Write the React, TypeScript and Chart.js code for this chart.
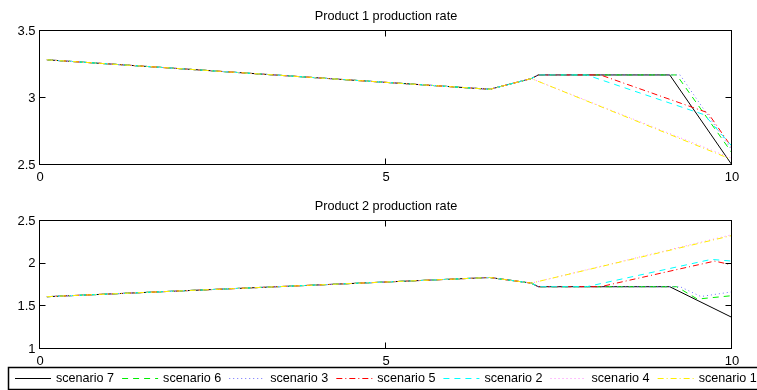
import { useEffect, useRef } from "react";
import { Chart, registerables } from "chart.js";

Chart.register(...registerables);

// ---------- shared series meta ----------
const scenarioNames = ["scenario 7", "scenario 6", "scenario 3", "scenario 5", "scenario 2", "scenario 4", "scenario 1"];
const scenarioColors = ["#000000", "#00ee00", "#7070ff", "#ff0000", "#00ffff", "#ff80ff", "#ffee00"];
const scenarioDashes: number[][] = [[], [6, 5], [1, 3], [6, 3, 1, 3], [6, 5], [1, 3], [6, 3, 1, 3]];

const xTicks = [0, 5, 10];
const p1YTicks = [2.5, 3, 3.5];
const p2YTicks = [1, 1.5, 2, 2.5];

// ---------- Product 1 production rate ----------
const p1s7T = [0.1, 6.5, 7.1, 7.2, 9.1, 10];
const p1s7V = [3.285, 3.065, 3.145, 3.172, 3.172, 2.5];
const p1s6T = [0.1, 6.5, 7.1, 7.2, 9.2, 10];
const p1s6V = [3.285, 3.065, 3.145, 3.172, 3.172, 2.59];
const p1s3T = [0.1, 6.5, 7.1, 7.2, 9.25, 10];
const p1s3V = [3.285, 3.065, 3.145, 3.172, 3.172, 2.61];
const p1s5T = [0.1, 6.5, 7.1, 7.2, 8.1, 9.65, 10];
const p1s5V = [3.285, 3.065, 3.145, 3.172, 3.172, 2.89, 2.63];
const p1s2T = [0.1, 6.5, 7.1, 7.2, 7.9, 9.6, 10];
const p1s2V = [3.285, 3.065, 3.145, 3.172, 3.172, 2.875, 2.64];
const p1s4T = [0.1, 6.5, 7.1, 10];
const p1s4V = [3.285, 3.065, 3.145, 2.55];
const p1s1T = [0.1, 6.5, 7.1, 10];
const p1s1V = [3.285, 3.065, 3.145, 2.54];

// ---------- Product 2 production rate ----------
const p2s7T = [0.1, 6.5, 7.1, 7.2, 9.1, 10];
const p2s7V = [1.613, 1.838, 1.772, 1.73, 1.73, 1.37];
const p2s6T = [0.1, 6.5, 7.1, 7.2, 9.2, 9.5, 10];
const p2s6V = [1.613, 1.838, 1.772, 1.73, 1.73, 1.585, 1.625];
const p2s3T = [0.1, 6.5, 7.1, 7.2, 9.25, 9.55, 10];
const p2s3V = [1.613, 1.838, 1.772, 1.73, 1.73, 1.615, 1.67];
const p2s5T = [0.1, 6.5, 7.1, 7.2, 8.1, 9.75, 10];
const p2s5V = [1.613, 1.838, 1.772, 1.73, 1.73, 2.03, 1.985];
const p2s2T = [0.1, 6.5, 7.1, 7.2, 7.9, 9.7, 10];
const p2s2V = [1.613, 1.838, 1.772, 1.73, 1.73, 2.05, 2.03];
const p2s4T = [0.1, 6.5, 7.1, 10];
const p2s4V = [1.613, 1.838, 1.772, 2.34];
const p2s1T = [0.1, 6.5, 7.1, 10];
const p2s1V = [1.613, 1.838, 1.772, 2.33];

const p1Series = [[p1s7T, p1s7V], [p1s6T, p1s6V], [p1s3T, p1s3V], [p1s5T, p1s5V], [p1s2T, p1s2V], [p1s4T, p1s4V], [p1s1T, p1s1V]];
const p2Series = [[p2s7T, p2s7V], [p2s6T, p2s6V], [p2s3T, p2s3V], [p2s5T, p2s5V], [p2s2T, p2s2V], [p2s4T, p2s4V], [p2s1T, p2s1V]];

const FONT = '"Liberation Sans", Arial, Helvetica, sans-serif';

function fmt(v: number) {
  return String(v);
}

const matlabAxes = {
  id: "matlabAxes",
  afterDraw(chart: any, _args: any, opts: any) {
    const { ctx, chartArea: a, scales } = chart;
    const xs = scales.x;
    const ys = scales.y;
    const L = Math.round(a.left) - 0.5;
    const R = Math.round(a.right) - 0.5;
    const T = Math.round(a.top) - 0.5;
    const B = Math.round(a.bottom) - 0.5;
    ctx.save();
    ctx.strokeStyle = "#000";
    ctx.lineWidth = 1;
    ctx.setLineDash([]);
    ctx.strokeRect(L, T, R - L, B - T);
    const tl = 6;
    ctx.beginPath();
    for (const t of opts.xTicks) {
      const px = Math.round(xs.getPixelForValue(t)) - 0.5;
      ctx.moveTo(px, B);
      ctx.lineTo(px, B - tl);
      ctx.moveTo(px, T);
      ctx.lineTo(px, T + tl);
    }
    for (const t of opts.yTicks) {
      const py = Math.round(ys.getPixelForValue(t)) - 0.5;
      ctx.moveTo(L, py);
      ctx.lineTo(L + tl, py);
      ctx.moveTo(R, py);
      ctx.lineTo(R - tl, py);
    }
    ctx.stroke();
    ctx.fillStyle = "#000";
    ctx.font = `13px ${FONT}`;
    ctx.textBaseline = "middle";
    ctx.textAlign = "center";
    for (const t of opts.xTicks) {
      ctx.fillText(fmt(t), xs.getPixelForValue(t), a.bottom + 12);
    }
    ctx.textAlign = "right";
    for (const t of opts.yTicks) {
      ctx.fillText(fmt(t), a.left - 4.5, ys.getPixelForValue(t));
    }
    ctx.font = `12.7px ${FONT}`;
    ctx.textAlign = "center";
    ctx.fillText(opts.title, (a.left + a.right) / 2, a.top - 15);

    if (opts.legendTop !== undefined) {
      const top = opts.legendTop;
      const h = 22;
      ctx.lineWidth = 1.5;
      ctx.strokeRect(8.5, top + 0.5, 800, h);
      ctx.font = `12.6px ${FONT}`;
      ctx.textAlign = "left";
      let x = 15;
      const cy = top + h / 2 + 0.5;
      chart.data.datasets.forEach((ds: any) => {
        ctx.lineWidth = 1;
        ctx.strokeStyle = ds.borderColor;
        ctx.setLineDash(ds.borderDash || []);
        ctx.beginPath();
        ctx.moveTo(x, cy);
        ctx.lineTo(x + 36, cy);
        ctx.stroke();
        ctx.setLineDash([]);
        ctx.fillStyle = "#000";
        ctx.fillText(ds.label, x + 41, cy);
        x += 36 + 4 + ctx.measureText(ds.label).width + 9;
      });
    }
    ctx.restore();
  },
};

function makeDatasets(series: number[][][]) {
  return series.map(([ts, vs], i) => ({
    label: scenarioNames[i],
    data: ts.map((t, k) => ({ x: t, y: vs[k] })),
    borderColor: scenarioColors[i],
    borderDash: scenarioDashes[i],
    borderWidth: 1,
    pointRadius: 0,
    fill: false,
    tension: 0,
    order: series.length - i,
  }));
}

function makeConfig(series: number[][][], yMin: number, yMax: number, yTicks: number[], title: string, padding: any, legendTop?: number): any {
  return {
    type: "line",
    data: { datasets: makeDatasets(series) },
    options: {
      animation: false,
      responsive: false,
      devicePixelRatio: 1,
      layout: { padding },
      scales: {
        x: { type: "linear", min: 0, max: 10, display: false },
        y: { type: "linear", min: yMin, max: yMax, display: false },
      },
      plugins: {
        legend: { display: false },
        tooltip: { enabled: false },
        matlabAxes: { xTicks, yTicks, title, legendTop },
      },
    },
    plugins: [matlabAxes],
  };
}

export default function App() {
  const topRef = useRef<HTMLCanvasElement>(null);
  const botRef = useRef<HTMLCanvasElement>(null);
  useEffect(() => {
    const c1 = new Chart(
      topRef.current!,
      makeConfig(p1Series, 2.5, 3.5, p1YTicks, "Product 1 production rate", { left: 40, right: 25, top: 31, bottom: 20 })
    );
    const c2 = new Chart(
      botRef.current!,
      makeConfig(p2Series, 1, 2.5, p2YTicks, "Product 2 production rate", { left: 40, right: 25, top: 36, bottom: 41 }, 182)
    );
    return () => {
      c1.destroy();
      c2.destroy();
    };
  }, []);
  return (
    <div style={{ position: "fixed", left: 0, top: 0, width: 757, height: 390, background: "#fff", overflow: "hidden" }}>
      <canvas ref={topRef} width={757} height={185} style={{ position: "absolute", left: 0, top: 0 }} />
      <canvas ref={botRef} width={757} height={205} style={{ position: "absolute", left: 0, top: 185 }} />
    </div>
  );
}
